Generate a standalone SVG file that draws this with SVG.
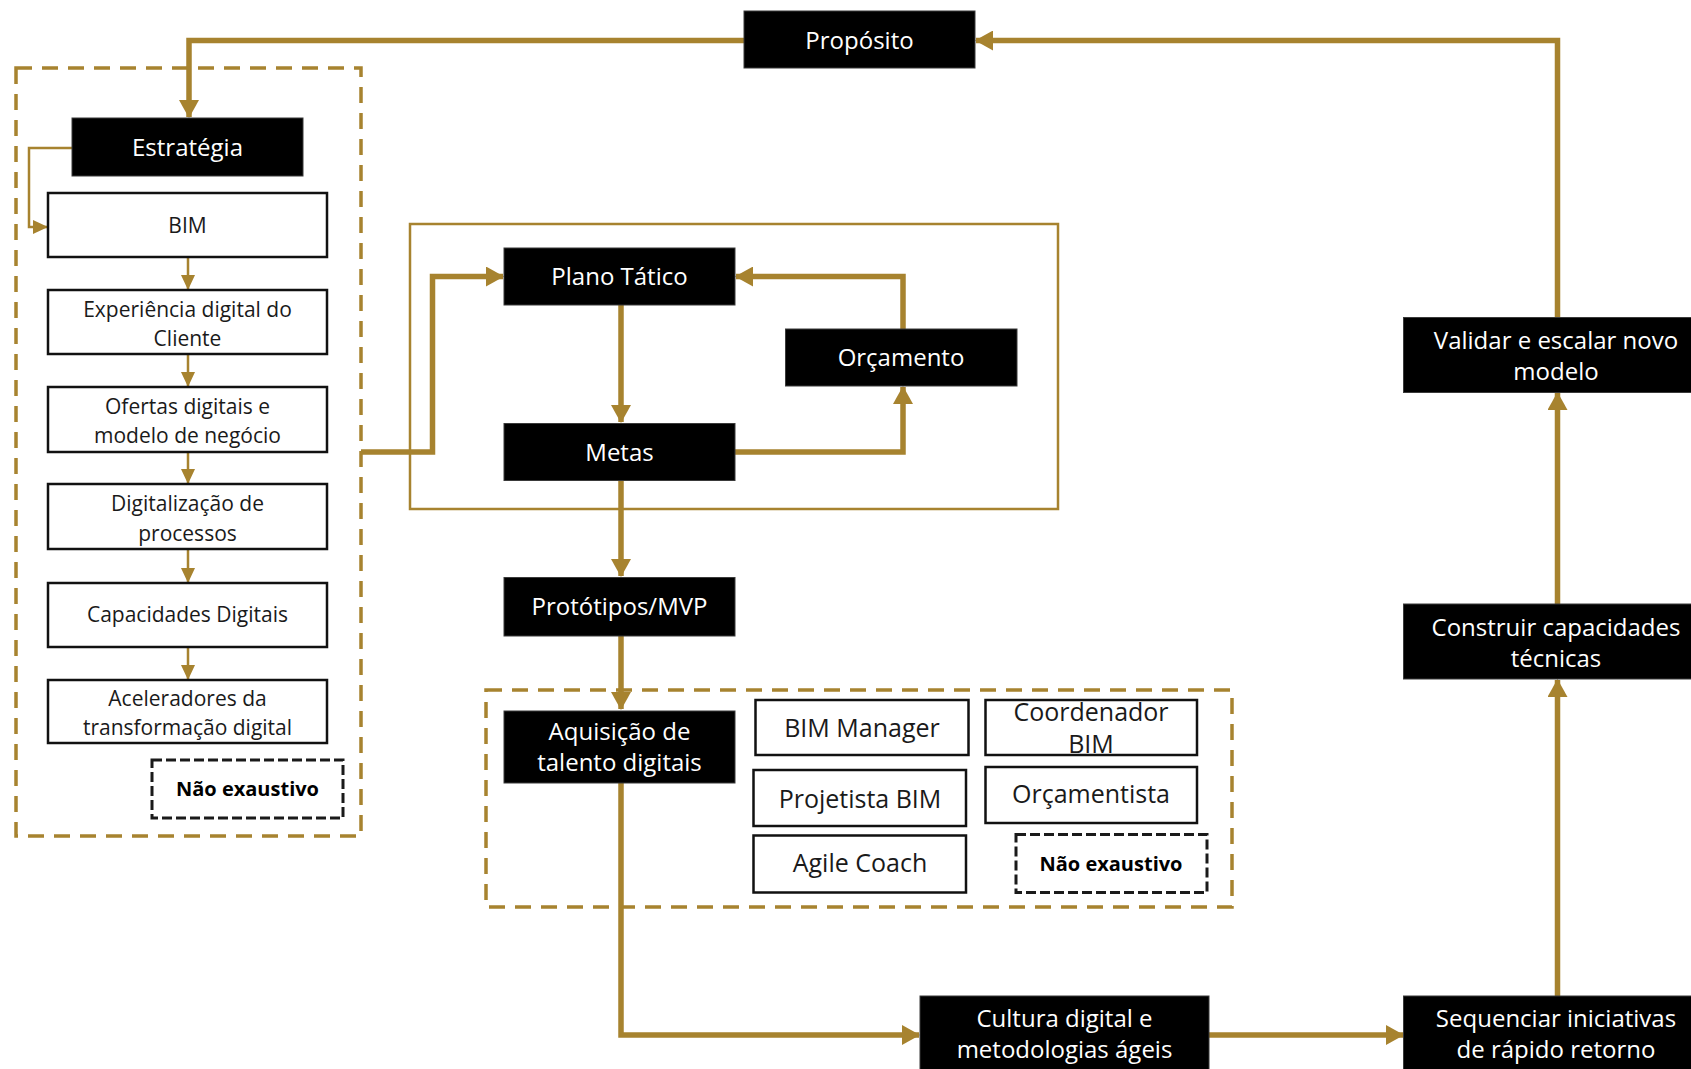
<svg xmlns="http://www.w3.org/2000/svg" width="1691" height="1069" viewBox="0 0 1691 1069">
  <style>
    .blk { fill: #000; stroke: #3a3a3a; stroke-width: 1; }
    .wht { fill: #fff; stroke: #111; stroke-width: 2.5; }
    .tw { font-family: "Open Sans", "Noto Sans", "DejaVu Sans", sans-serif; font-size: 24px; fill: #fff; text-anchor: middle; }
    .tb { font-family: "Open Sans", "Noto Sans", "DejaVu Sans", sans-serif; font-size: 21px; fill: #1a1a1a; text-anchor: middle; }
    .tr { font-family: "Open Sans", "Noto Sans", "DejaVu Sans", sans-serif; font-size: 25px; fill: #1a1a1a; text-anchor: middle; }
    .tn { font-family: "Open Sans", "Noto Sans", "DejaVu Sans", sans-serif; font-size: 20px; font-weight: bold; fill: #000; text-anchor: middle; }
    .note { fill: #fff; stroke: #1a1a1a; stroke-width: 3; stroke-dasharray: 10 4; }
    .group { fill: none; stroke: #A7832F; stroke-width: 3.5; stroke-dasharray: 16 10; }
    .frame { fill: none; stroke: #A7832F; stroke-width: 2.5; }
    .thick { fill: none; stroke: #A7832F; stroke-width: 5.5; stroke-linejoin: miter; }
    .thin { fill: none; stroke: #A7832F; stroke-width: 2.5; stroke-linejoin: miter; }
  </style>
  <defs>
    <!-- heavy flow arrowhead -->
    <marker id="ah" markerUnits="userSpaceOnUse" viewBox="0 0 18 20" refX="17" refY="10" markerWidth="18" markerHeight="20" orient="auto">
      <path d="M0,0 L18,10 L0,20 Z" fill="#A7832F"/>
    </marker>
    <!-- light list arrowhead -->
    <marker id="ahs" markerUnits="userSpaceOnUse" viewBox="0 0 15 14" refX="14" refY="7" markerWidth="15" markerHeight="14" orient="auto">
      <path d="M0,0 L15,7 L0,14 Z" fill="#A7832F"/>
    </marker>
  </defs>
  <rect width="1691" height="1069" fill="#fff"/>

  <!-- grouping frames -->
  <g id="frames">
    <rect class="group" x="16" y="68" width="345" height="768"/>
    <rect class="frame" x="410" y="224" width="648" height="285"/>
    <rect class="group" x="486" y="690" width="746" height="217"/>
  </g>

  <!-- connectors -->
  <g id="connectors">
    <path class="thick" d="M744,40.5 H189 V117" marker-end="url(#ah)"/>
    <path class="thin" d="M72,148 H29 V227 H47" marker-end="url(#ahs)"/>
    <path class="thin" d="M188,257 V289" marker-end="url(#ahs)"/>
    <path class="thin" d="M188,354 V386" marker-end="url(#ahs)"/>
    <path class="thin" d="M188,452 V483" marker-end="url(#ahs)"/>
    <path class="thin" d="M188,549 V582" marker-end="url(#ahs)"/>
    <path class="thin" d="M188,647 V679" marker-end="url(#ahs)"/>
    <path class="thick" d="M361,452 H432.5 V276.5 H503" marker-end="url(#ah)"/>
    <path class="thick" d="M621,305 V422" marker-end="url(#ah)"/>
    <path class="thick" d="M735,452 H903 V387" marker-end="url(#ah)"/>
    <path class="thick" d="M903,329 V276.5 H736" marker-end="url(#ah)"/>
    <path class="thick" d="M621,481 V576" marker-end="url(#ah)"/>
    <path class="thick" d="M621,636 V709" marker-end="url(#ah)"/>
    <path class="thick" d="M621,783 V1035 H919" marker-end="url(#ah)"/>
    <path class="thick" d="M1209,1035 H1403" marker-end="url(#ah)"/>
    <path class="thick" d="M1557.5,996 V680" marker-end="url(#ah)"/>
    <path class="thick" d="M1557.5,604 V393" marker-end="url(#ah)"/>
    <path class="thick" d="M1557.5,317 V40.5 H976" marker-end="url(#ah)"/>
  </g>

  <g id="proposito">
    <rect class="blk" x="744" y="11" width="231" height="57"/>
    <text class="tw" x="859.5" y="48.5">Propósito</text>
  </g>

  <g id="estrategia">
    <rect class="blk" x="72" y="118" width="231" height="58"/>
    <text class="tw" x="187.5" y="156">Estratégia</text>
  </g>

  <g id="bim">
    <rect class="wht" x="48" y="193" width="279" height="64"/>
    <text class="tb" x="187.5" y="233">BIM</text>
  </g>
  <g id="experiencia">
    <rect class="wht" x="48" y="290" width="279" height="64"/>
    <text class="tb" x="187.5" y="316.5">Experiência digital do</text>
    <text class="tb" x="187.5" y="345.5">Cliente</text>
  </g>
  <g id="ofertas">
    <rect class="wht" x="48" y="387" width="279" height="65"/>
    <text class="tb" x="187.5" y="413.5">Ofertas digitais e</text>
    <text class="tb" x="187.5" y="442.5">modelo de negócio</text>
  </g>
  <g id="digitalizacao">
    <rect class="wht" x="48" y="484" width="279" height="65"/>
    <text class="tb" x="187.5" y="510.5">Digitalização de</text>
    <text class="tb" x="187.5" y="540.5">processos</text>
  </g>
  <g id="capacidades">
    <rect class="wht" x="48" y="583" width="279" height="64"/>
    <text class="tb" x="187.5" y="622">Capacidades Digitais</text>
  </g>
  <g id="aceleradores">
    <rect class="wht" x="48" y="680" width="279" height="63"/>
    <text class="tb" x="187.5" y="705.5">Aceleradores da</text>
    <text class="tb" x="187.5" y="734.5">transformação digital</text>
  </g>
  <g id="nao-exaustivo-1">
    <rect class="note" x="152" y="760" width="191" height="58"/>
    <text class="tn" x="247.5" y="795.5">Não exaustivo</text>
  </g>

  <g id="plano-tatico">
    <rect class="blk" x="504" y="248" width="231" height="57"/>
    <text class="tw" x="619.5" y="285">Plano Tático</text>
  </g>
  <g id="orcamento">
    <rect class="blk" x="785.5" y="329" width="231.5" height="57"/>
    <text class="tw" x="901" y="366">Orçamento</text>
  </g>
  <g id="metas">
    <rect class="blk" x="504" y="423.5" width="231" height="57"/>
    <text class="tw" x="619.5" y="461">Metas</text>
  </g>
  <g id="prototipos">
    <rect class="blk" x="504" y="577.5" width="231" height="58.5"/>
    <text class="tw" x="619.5" y="614.5">Protótipos/MVP</text>
  </g>
  <g id="aquisicao">
    <rect class="blk" x="504" y="711" width="231" height="72"/>
    <text class="tw" x="619.5" y="740">Aquisição de</text>
    <text class="tw" x="619.5" y="771">talento digitais</text>
  </g>

  <g id="bim-manager">
    <rect class="wht" x="755.5" y="700" width="213" height="55"/>
    <text class="tr" x="862" y="736.5">BIM Manager</text>
  </g>
  <g id="coordenador-bim">
    <rect class="wht" x="985.5" y="700" width="211.5" height="55"/>
    <text class="tr" x="1091" y="721">Coordenador</text>
    <text class="tr" x="1091" y="752.5">BIM</text>
  </g>
  <g id="projetista-bim">
    <rect class="wht" x="753.5" y="770" width="212.5" height="56"/>
    <text class="tr" x="860" y="807.5">Projetista BIM</text>
  </g>
  <g id="orcamentista">
    <rect class="wht" x="985.5" y="767" width="211.5" height="56"/>
    <text class="tr" x="1091" y="803">Orçamentista</text>
  </g>
  <g id="agile-coach">
    <rect class="wht" x="753.5" y="835.5" width="212.5" height="57"/>
    <text class="tr" x="860" y="872">Agile Coach</text>
  </g>
  <g id="nao-exaustivo-2">
    <rect class="note" x="1016" y="834.5" width="191" height="58"/>
    <text class="tn" x="1111" y="870.5">Não exaustivo</text>
  </g>

  <g id="cultura">
    <rect class="blk" x="920" y="996" width="289" height="80"/>
    <text class="tw" x="1064.5" y="1027">Cultura digital e</text>
    <text class="tw" x="1064.5" y="1058">metodologias ágeis</text>
  </g>
  <g id="sequenciar">
    <rect class="blk" x="1403.5" y="996" width="310" height="80"/>
    <text class="tw" x="1556" y="1027">Sequenciar iniciativas</text>
    <text class="tw" x="1556" y="1058">de rápido retorno</text>
  </g>
  <g id="construir">
    <rect class="blk" x="1403.5" y="604" width="310" height="75"/>
    <text class="tw" x="1556" y="635.5">Construir capacidades</text>
    <text class="tw" x="1556" y="666.5">técnicas</text>
  </g>
  <g id="validar">
    <rect class="blk" x="1403.5" y="317.5" width="310" height="75"/>
    <text class="tw" x="1556" y="348.5">Validar e escalar novo</text>
    <text class="tw" x="1556" y="380">modelo</text>
  </g>
</svg>
